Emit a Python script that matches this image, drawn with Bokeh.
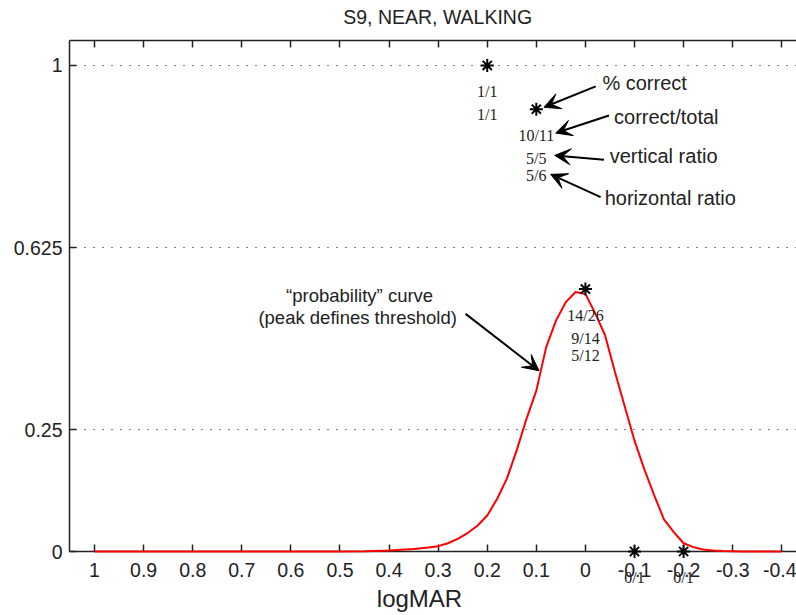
from bokeh.plotting import figure
from bokeh.models import Range1d, FixedTicker, LinearAxis, Arrow, VeeHead, ColumnDataSource
from bokeh.embed import file_html
from bokeh.resources import INLINE
from bokeh.core.properties import value

# ---- data ----
x_ticks = [1, 0.9, 0.8, 0.7, 0.6, 0.5, 0.4, 0.3, 0.2, 0.1, 0, -0.1, -0.2, -0.3, -0.4]
x_tick_labels = ["1", "0.9", "0.8", "0.7", "0.6", "0.5", "0.4", "0.3", "0.2", "0.1", "0",
                 "-0.1", "-0.2", "-0.3", "-0.4"]
y_ticks = [0, 0.25, 0.625, 1]
y_tick_labels = ["0", "0.25", "0.625", "1"]

curve_x = [1.0, 0.9, 0.8, 0.7, 0.6, 0.5, 0.45, 0.4, 0.35, 0.32, 0.3, 0.28, 0.26, 0.24, 0.22,
           0.2, 0.18, 0.16, 0.14, 0.12, 0.1, 0.08, 0.06, 0.04, 0.02, 0.0, -0.02, -0.04, -0.06,
           -0.08, -0.1, -0.12, -0.14, -0.16, -0.18, -0.2, -0.22, -0.24, -0.26, -0.28, -0.32,
           -0.36, -0.4]
curve_y = [0, 0, 0, 0, 0, 0, 0.0005, 0.002, 0.005, 0.008, 0.011, 0.017, 0.026, 0.038, 0.053,
           0.074, 0.108, 0.150, 0.208, 0.273, 0.331, 0.42, 0.475, 0.513, 0.534, 0.530, 0.49,
           0.445, 0.37, 0.299, 0.228, 0.169, 0.116, 0.066, 0.040, 0.017, 0.009, 0.004, 0.002,
           0.001, 0, 0, 0]

pt_x = [0.2, 0.1, 0.0, -0.1, -0.2]
pt_y = [1.0, 0.91, 0.54, 0.0, 0.0]
pt_total = ["1/1", "10/11", "14/26", "0/1", "0/1"]
pt_vert = ["1/1", "5/5", "9/14", "", ""]
pt_horiz = ["", "5/6", "5/12", "", ""]

title_text = ["S9, NEAR, WALKING"]
x_label_text = ["logMAR"]

note_text = ["% correct", "correct/total", "vertical ratio", "horizontal ratio"]
note_x = [-0.0346, -0.0583, -0.0495, -0.0393]
note_y = [0.9636, 0.8937, 0.8134, 0.7278]

curve_note = ["\u201cprobability\u201d curve", "(peak defines threshold)"]
curve_note_x = [0.46, 0.464]
curve_note_y = [0.5267, 0.482]

arrow_x0 = [-0.021, -0.048, -0.038, -0.031, 0.244]
arrow_y0 = [0.957, 0.897, 0.806, 0.729, 0.489]
arrow_x1 = [0.0844, 0.0605, 0.0626, 0.0707, 0.0946]
arrow_y1 = [0.914, 0.861, 0.815, 0.776, 0.372]

SANS = "Liberation Sans"
SERIF = "Liberation Serif"
INK = "#222222"

p = figure(width=796, height=615, x_range=Range1d(1.051, -0.43), y_range=Range1d(0, 1.0514),
           output_backend="svg", toolbar_location=None,
           min_border_left=69, min_border_right=0, min_border_top=40, min_border_bottom=64)
p.outline_line_color = None
p.background_fill_color = "white"
p.border_fill_color = "white"

for ax in (p.xaxis[0], p.yaxis[0]):
    ax.axis_line_color = INK
    ax.axis_line_width = 1.5
    ax.major_tick_line_color = INK
    ax.major_tick_line_width = 1.5
    ax.major_tick_in = 7
    ax.major_tick_out = 0
    ax.minor_tick_line_color = None
    ax.major_label_text_font = SANS
    ax.major_label_text_font_size = "19.5px"
    ax.major_label_text_color = INK

p.xaxis[0].ticker = FixedTicker(ticks=x_ticks)
p.xaxis[0].major_label_overrides = dict(zip(x_ticks, x_tick_labels))
p.xaxis[0].major_label_standoff = 11

p.yaxis[0].ticker = FixedTicker(ticks=y_ticks)
p.yaxis[0].major_label_overrides = dict(zip(y_ticks, y_tick_labels))
p.yaxis[0].major_label_standoff = 7

top = LinearAxis(ticker=FixedTicker(ticks=x_ticks), axis_line_color=INK, axis_line_width=1.5,
                 major_tick_line_color=INK, major_tick_line_width=1.5, major_tick_in=7,
                 major_tick_out=0, minor_tick_line_color=None,
                 major_label_overrides={t: "" for t in x_ticks},
                 major_label_text_font_size="1px", major_label_standoff=0)
p.add_layout(top, "above")

p.xgrid.visible = False
p.ygrid.ticker = FixedTicker(ticks=[0.25, 0.625, 1])
p.ygrid.grid_line_color = "black"
p.ygrid.grid_line_dash = "1 8"
p.ygrid.grid_line_width = 1.2

r_curve = p.line(curve_x, curve_y, line_color="red", line_width=2)
r_curve.level = "overlay"
r_pts = p.scatter(pt_x, pt_y, marker="asterisk", size=13, line_color="black", line_width=2)
r_pts.level = "overlay"

src = ColumnDataSource(dict(x=pt_x, y=pt_y, t1=pt_total, t2=pt_vert, t3=pt_horiz))
for col, off in (("t1", 26), ("t2", 49), ("t3", 66)):
    r = p.text(x="x", y="y", text=col, source=src, y_offset=off, text_align="center",
               text_baseline="middle", text_font=value(SERIF), text_font_size="16px",
               text_color=INK)
    r.level = "overlay"

r_title = p.text(x=[0.301], y=[1.099], text=title_text, text_align="center",
                 text_baseline="middle", text_font=value(SANS), text_font_size="19.5px",
                 text_color=INK)
r_title.level = "overlay"

r_xl = p.text(x=[0.338], y=[-0.0967], text=x_label_text, text_align="center",
              text_baseline="middle", text_font=value(SANS), text_font_size="24px",
              text_color=INK)
r_xl.level = "overlay"

p.text(x=note_x, y=note_y, text=note_text, text_align="left", text_baseline="middle",
       text_font=value(SANS), text_font_size="20px", text_color=INK)
p.text(x=curve_note_x, y=curve_note_y, text=curve_note, text_align="center",
       text_baseline="middle", text_font=value(SANS), text_font_size="18.5px", text_color=INK)

asrc = ColumnDataSource(dict(x0=arrow_x0, y0=arrow_y0, x1=arrow_x1, y1=arrow_y1))
p.add_layout(Arrow(source=asrc, x_start="x0", y_start="y0", x_end="x1", y_end="y1",
                   line_color="black", line_width=2,
                   end=VeeHead(size=16, fill_color="black", line_color="black", line_width=1)))

open("out.html", "w").write(file_html(p, INLINE))
